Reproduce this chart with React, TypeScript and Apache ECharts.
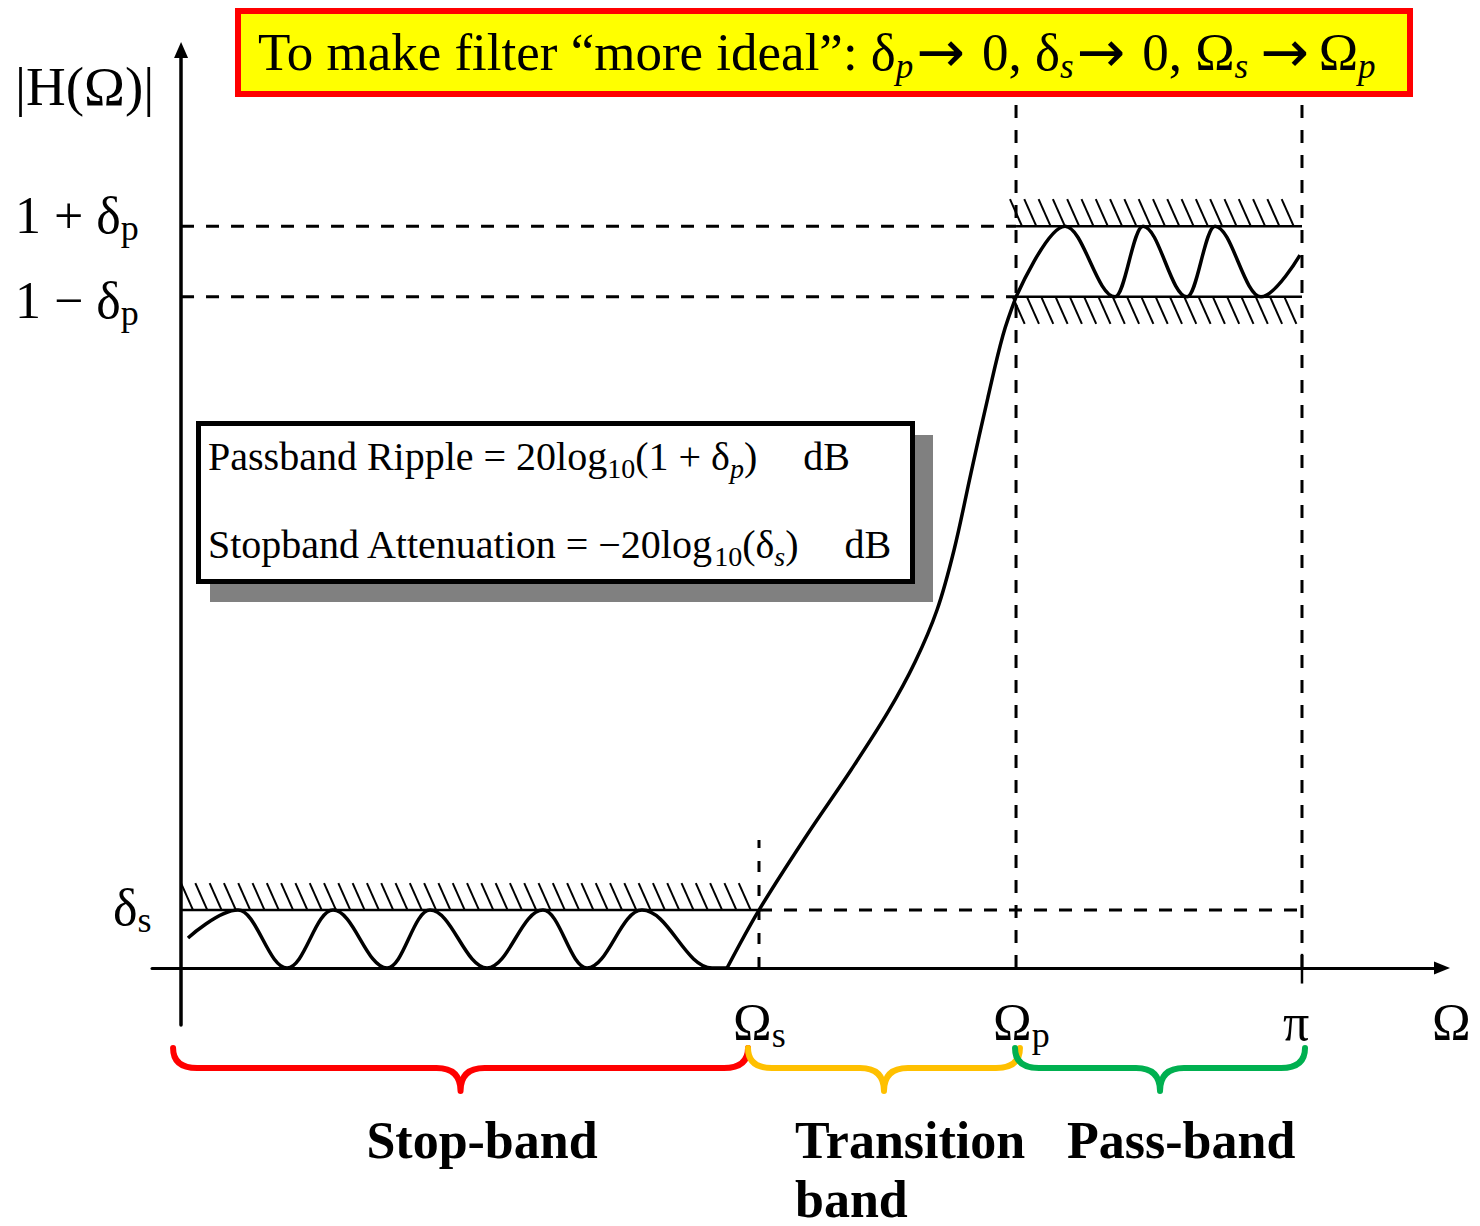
import React, { useEffect, useRef } from 'react';
import * as echarts from 'echarts';

const SERIF = '"Liberation Serif", "Times New Roman", serif';

// ---- key frequencies (normalised Ω/π) and magnitude levels ----
const OMEGA_S = 0.5156;
const OMEGA_P = 0.7449;
const OMEGA_PI = 1.0;
const DELTA_S = 0.082;
const PASS_UPPER = 1.05; // 1 + δp
const PASS_LOWER = 0.95; // 1 − δp
const DASH_TOP = 1.233;
const OMEGA_S_DASH_TOP = 0.181;

const X_RANGE = [-0.0259, 1.1249];
const Y_RANGE = [-0.0807, 1.2994];

// ---- magnitude response |H(Ω)|, split in stop-band ripple, transition, pass-band ripple ----
const STOP_RIPPLE_X = [0.0062, 0.0508, 0.0946, 0.1356, 0.1838, 0.2221, 0.273, 0.3229, 0.3622, 0.4112, 0.4737, 0.4871];
const STOP_RIPPLE_Y = [0.0425, 0.082, 0, 0.082, 0, 0.082, 0, 0.082, 0, 0.082, 0, 0];
const TRANSITION_X = [0.4871, 0.5156, 0.5584, 0.5977, 0.6307, 0.6548, 0.6744, 0.6896, 0.7047, 0.7199, 0.7333, 0.7449];
const TRANSITION_Y = [0, 0.082, 0.1883, 0.2803, 0.3624, 0.4331, 0.5067, 0.5917, 0.7006, 0.8082, 0.896, 0.9498];
const PASS_RIPPLE_X = [0.7449, 0.7886, 0.8332, 0.8582, 0.8974, 0.9224, 0.9634, 0.9982];
const PASS_RIPPLE_Y = [0.9498, 1.05, 0.95, 1.05, 0.95, 1.05, 0.95, 1.009];

// ---- reference lines ----
const DASHED_REFS = [
  [[0, PASS_UPPER], [OMEGA_P, PASS_UPPER]],
  [[0, PASS_LOWER], [OMEGA_P, PASS_LOWER]],
  [[OMEGA_S, DELTA_S], [OMEGA_PI, DELTA_S]],
  [[OMEGA_P, 0], [OMEGA_P, DASH_TOP]],
  [[OMEGA_PI, 0], [OMEGA_PI, DASH_TOP]],
];
const SOLID_REFS = [
  [[0, DELTA_S], [OMEGA_S, DELTA_S]],
  [[OMEGA_P, PASS_UPPER], [OMEGA_PI, PASS_UPPER]],
  [[OMEGA_P, PASS_LOWER], [OMEGA_PI, PASS_LOWER]],
  [[OMEGA_PI, -0.022], [OMEGA_PI, 0.02]],
];
const SHORT_DASHED_REFS = [[[OMEGA_S, 0], [OMEGA_S, OMEGA_S_DASH_TOP]]];

// ---- hatched tolerance bands: [x0, x1, level, side(+1 above / -1 below)] ----
const HATCH_BANDS = [
  [0, OMEGA_S, DELTA_S, 1],
  [OMEGA_P - 0.0054, OMEGA_PI, PASS_UPPER, 1],
  [OMEGA_P - 0.003, OMEGA_PI, PASS_LOWER, -1],
];

// ---- band braces: [x0, x1, colourIndex] ----
const BRACES = [
  [-0.0071, 0.5058, 0],
  [0.5058, 0.7484, 1],
  [0.744, 1.0027, 2],
];
const BRACE_COLORS = ['#FF0000', '#FFC000', '#00B050'];

// ---- texts ----
const AXIS_TITLES = ['|H(Ω)|', 'Ω'];
const Y_TICK_LABELS = [['1 + δ', 'p'], ['1 − δ', 'p'], ['δ', 's']];
const X_TICK_LABELS = [['Ω', 's'], ['Ω', 'p'], ['π', '']];
const BAND_LABELS = ['Stop-band', 'Transition', 'band', 'Pass-band'];
const TITLE_TEXT =
  '{n|To make filter “more ideal”: δ}{s|p}{a|→}{n|0, δ}{s|s}{a|→}{n|0, Ω}{s|s}{b|→}{n|Ω}{s|p}';
const FORMULAS = [
  ['Passband Ripple = 20log', '10', '(1 + δ', 'p', ')', 'dB'],
  ['Stopband Attenuation = −20log', '10', '(δ', 's', ')', 'dB'],
];

const labelRich = {
  n: { fontFamily: SERIF, fontSize: 52, fill: '#000' },
  s: { fontFamily: SERIF, fontSize: 36, fill: '#000', padding: [25, 0, 0, 0] },
};
const titleRich = {
  n: { fontFamily: SERIF, fontSize: 53, fill: '#000' },
  s: { fontFamily: SERIF, fontSize: 35, fontStyle: 'italic', fill: '#000', padding: [29, 0, 0, 0] },
  a: { fontFamily: '"DejaVu Sans", sans-serif', fontSize: 58, fill: '#000', padding: [0, 17, 0, 3] },
  b: { fontFamily: '"DejaVu Sans", sans-serif', fontSize: 58, fill: '#000', padding: [0, 10, 0, 12] },
};
const formulaRich = {
  n: { fontFamily: SERIF, fontSize: 40, fill: '#000' },
  sb: { fontFamily: SERIF, fontSize: 28, fill: '#000', padding: [24, 0, 0, 0] },
  si: { fontFamily: SERIF, fontSize: 28, fontStyle: 'italic', fill: '#000', padding: [24, 0, 0, 0] },
  d: { fontFamily: SERIF, fontSize: 40, fill: '#000', padding: [0, 0, 0, 46] },
};

const subText = (main: string, sub: string) => (sub ? `{n|${main}}{s|${sub}}` : `{n|${main}}`);

const HATCH_STEP = 14.3;
const HATCH_DX = 12;
const HATCH_H = 27;

function buildOption() {
  const zip = (xs: number[], ys: number[]) => xs.map((x, i) => [x, ys[i]]);
  const curveStyle = { color: '#000', width: 3.5 };
  const refSeries = (segs: number[][][], width: number, type: any) =>
    segs.map((seg) => ({
      type: 'line',
      data: seg,
      symbol: 'none',
      silent: true,
      z: 3,
      lineStyle: { color: '#000', width, type },
    }));

  const textEl = (x: number, y: number, text: string, rich: any, extra: any = {}) => ({
    type: 'text',
    x,
    y,
    z: 20,
    style: { text, rich, verticalAlign: 'middle', align: 'left', fill: '#000', ...extra },
  });
  const boldEl = (x: number, y: number, text: string, align: string) => ({
    type: 'text',
    x,
    y,
    z: 20,
    style: {
      text,
      fontFamily: SERIF,
      fontWeight: 'bold',
      fontSize: 52,
      fill: '#000',
      verticalAlign: 'middle',
      align,
    },
  });

  const yLabelPos = [
    [15, 215],
    [15, 300],
    [113, 907],
  ];
  const xLabelPos = [
    [733, 1022],
    [993, 1022],
    [1283, 1022],
  ];

  const graphic: any[] = [
    // title box
    {
      type: 'rect',
      z: 10,
      shape: { x: 238, y: 11, width: 1172, height: 83 },
      style: { fill: '#FFFF00', stroke: '#FF0000', lineWidth: 6 },
    },
    textEl(258, 52, TITLE_TEXT, titleRich),
    // formula box with shadow
    { type: 'rect', z: 10, shape: { x: 210, y: 435, width: 723, height: 167 }, style: { fill: '#808080' } },
    {
      type: 'rect',
      z: 11,
      shape: { x: 198.5, y: 423.5, width: 714, height: 158 },
      style: { fill: '#ffffff', stroke: '#000', lineWidth: 5 },
    },
    ...FORMULAS.map((f, i) =>
      textEl(208, 456 + i * 88, `{n|${f[0]}}{sb|${f[1]}}{n|${f[2]}}{si|${f[3]}}{n|${f[4]}}{d|${f[5]}}`, formulaRich)
    ),
    // axis titles
    {
      type: 'text',
      x: 15,
      y: 86,
      z: 20,
      style: { text: AXIS_TITLES[0], fontFamily: SERIF, fontSize: 55, fill: '#000', verticalAlign: 'middle', align: 'left' },
    },
    {
      type: 'text',
      x: 1432,
      y: 1022,
      z: 20,
      style: { text: AXIS_TITLES[1], fontFamily: SERIF, fontSize: 52, fill: '#000', verticalAlign: 'middle', align: 'left' },
    },
    ...Y_TICK_LABELS.map(([m, s], i) => textEl(yLabelPos[i][0], yLabelPos[i][1], subText(m, s), labelRich)),
    ...X_TICK_LABELS.map(([m, s], i) => textEl(xLabelPos[i][0], xLabelPos[i][1], subText(m, s), labelRich)),
    // band labels
    boldEl(482, 1140, BAND_LABELS[0], 'center'),
    boldEl(795, 1140, BAND_LABELS[1], 'left'),
    boldEl(795, 1199, BAND_LABELS[2], 'left'),
    boldEl(1067, 1140, BAND_LABELS[3], 'left'),
  ];

  return {
    animation: false,
    backgroundColor: '#ffffff',
    grid: { left: 152, right: 38, top: 50, bottom: 201 },
    xAxis: {
      type: 'value',
      min: X_RANGE[0],
      max: X_RANGE[1],
      axisLine: {
        onZero: true,
        symbol: ['none', 'triangle'],
        symbolSize: [13, 16],
        lineStyle: { color: '#000', width: 3 },
      },
      axisTick: { show: false },
      axisLabel: { show: false },
      splitLine: { show: false },
    },
    yAxis: {
      type: 'value',
      min: Y_RANGE[0],
      max: Y_RANGE[1],
      axisLine: {
        onZero: true,
        symbol: ['none', 'triangle'],
        symbolSize: [14, 16],
        lineStyle: { color: '#000', width: 3.5 },
      },
      axisTick: { show: false },
      axisLabel: { show: false },
      splitLine: { show: false },
    },
    series: [
      ...refSeries(DASHED_REFS, 3, [13, 12]),
      ...refSeries(SOLID_REFS, 2.5, 'solid'),
      ...refSeries(SHORT_DASHED_REFS, 3, [11, 13]),
      {
        type: 'custom',
        coordinateSystem: 'cartesian2d',
        silent: true,
        z: 4,
        data: HATCH_BANDS,
        encode: { x: [0, 1], y: 2 },
        renderItem: (_params: any, api: any) => {
          const x0 = api.value(0);
          const x1 = api.value(1);
          const lvl = api.value(2);
          const side = api.value(3);
          const a = api.coord([x0, lvl]);
          const b = api.coord([x1, lvl]);
          const children: any[] = [];
          for (let px = a[0]; px + HATCH_DX <= b[0] + 1; px += HATCH_STEP) {
            const y1 = side > 0 ? a[1] - HATCH_H : a[1];
            const y2 = side > 0 ? a[1] : a[1] + HATCH_H;
            children.push({
              type: 'line',
              shape: { x1: px, y1, x2: px + HATCH_DX, y2 },
              style: { stroke: '#000', lineWidth: 2 },
            });
          }
          return { type: 'group', children };
        },
      },
      {
        type: 'custom',
        coordinateSystem: 'cartesian2d',
        silent: true,
        z: 4,
        data: BRACES,
        encode: { x: [0, 1], y: 2 },
        renderItem: (_params: any, api: any) => {
          const a = api.coord([api.value(0), 0]);
          const b = api.coord([api.value(1), 0]);
          const x0 = a[0];
          const x1 = b[0];
          const m = (x0 + x1) / 2;
          const yTop = a[1] + 80;
          const yH = a[1] + 100;
          const yTip = a[1] + 123;
          const r = 24;
          const d = `M${x0} ${yTop} Q${x0} ${yH} ${x0 + r} ${yH} L${m - r} ${yH} Q${m} ${yH} ${m} ${yTip} Q${m} ${yH} ${m + r} ${yH} L${x1 - r} ${yH} Q${x1} ${yH} ${x1} ${yTop}`;
          return {
            type: 'path',
            shape: { pathData: d },
            style: { stroke: BRACE_COLORS[api.value(2)], lineWidth: 6, fill: 'none', lineCap: 'round', lineJoin: 'round' },
          };
        },
      },
      {
        type: 'line',
        name: 'stop-band ripple',
        data: zip(STOP_RIPPLE_X, STOP_RIPPLE_Y),
        symbol: 'none',
        smooth: 0.38,
        smoothMonotone: 'x',
        silent: true,
        z: 5,
        lineStyle: curveStyle,
      },
      {
        type: 'line',
        name: 'transition',
        data: zip(TRANSITION_X, TRANSITION_Y),
        symbol: 'none',
        smooth: 0.35,
        silent: true,
        z: 5,
        lineStyle: curveStyle,
      },
      {
        type: 'line',
        name: 'pass-band ripple',
        data: zip(PASS_RIPPLE_X, PASS_RIPPLE_Y),
        symbol: 'none',
        smooth: 0.36,
        smoothMonotone: 'x',
        silent: true,
        z: 5,
        lineStyle: curveStyle,
      },
    ],
    graphic,
  };
}

export default function App() {
  const ref = useRef<HTMLDivElement>(null);
  useEffect(() => {
    if (!ref.current) return;
    const chart = echarts.init(ref.current, null, { renderer: 'svg' });
    chart.setOption(buildOption() as any);
    return () => chart.dispose();
  }, []);
  return (
    <div
      ref={ref}
      style={{ position: 'absolute', left: 0, top: 0, width: 1480, height: 1226, background: '#ffffff' }}
    />
  );
}
